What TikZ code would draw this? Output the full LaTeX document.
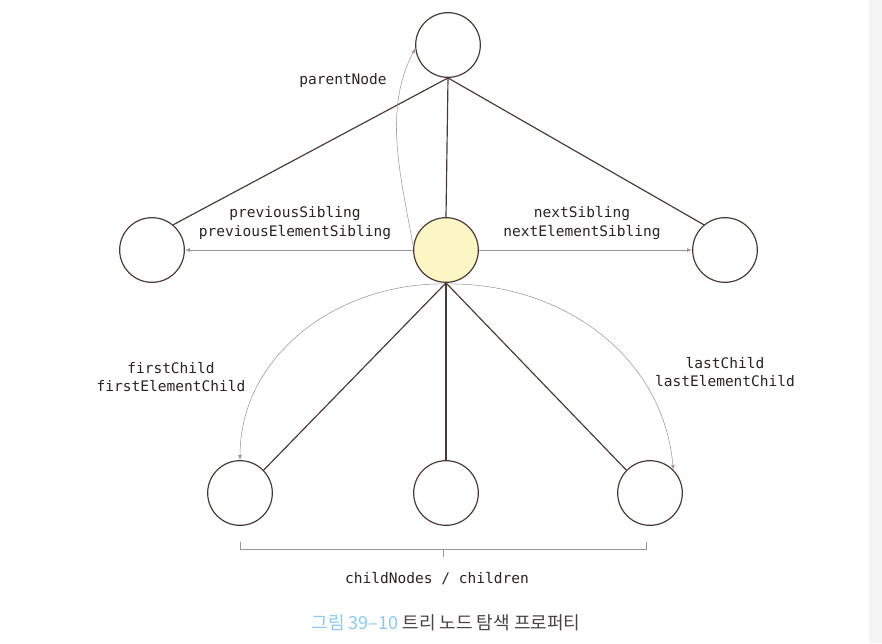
\documentclass[tikz,border=0pt]{standalone}
\usepackage{fontspec}
\setmonofont{DejaVu Sans Mono}
\newfontfamily\kofont{Noto Sans CJK KR}
\usepackage{tikz}
\usetikzlibrary{arrows,arrows.meta,calc,positioning}
\definecolor{bordo}{HTML}{4A3838}
\definecolor{giallino}{HTML}{FCF6C4}
\definecolor{grigiofreccia}{HTML}{9A9494}
\definecolor{testo}{HTML}{2B2222}
\definecolor{azzurro}{HTML}{8CC8EC}

\begin{document}
\begin{tikzpicture}[x=0.3mm, y=-0.3mm, >=latex,
    nodo/.style={circle, draw=bordo, line width=1pt, fill=white, minimum size=19.4mm, inner sep=0pt},
    ramo/.style={bordo, line width=1pt},
    freccia/.style={->, grigiofreccia, line width=0.45pt},
    etichetta/.style={text=testo, align=center, font=\ttfamily\fontsize{12.4}{15.6}\selectfont}]
    \useasboundingbox (0,0) rectangle (882,643);
    \fill[black!4] (869,0) rectangle (882,643);

    % Nodi
    \node[nodo] (parent) at (448,45) {};
    \node[nodo, fill=giallino] (cur) at (446,250) {};
    \node[nodo] (prev) at (152,250) {};
    \node[nodo] (next) at (725,250) {};
    \node[nodo] (first) at (240,493) {};
    \node[nodo] (middle) at (446,493) {};
    \node[nodo] (last) at (650,493) {};

    % Rami dell'albero
    \draw[ramo] (parent.south) -- (prev.50);
    \draw[ramo] (parent.south) -- (next.130);
    \draw[ramo] (parent.south) -- (cur.north);
    \draw[ramo] (cur.south) -- (first.44);
    \draw[ramo] (cur.south) -- (middle.north);
    \draw[ramo] (cur.south) -- (last.136);

    % Proprieta di navigazione
    \draw[freccia] (cur.174) to[out=100, in=-118, looseness=0.9] (parent.186);
    \draw[freccia] (cur.west) -- (prev.east);
    \draw[freccia] (cur.east) -- (next.west);
    \draw[freccia] ($(cur.south)+(-4,1)$) to[out=180, in=90] (first.north);
    \draw[freccia] ($(cur.south)+(4,1)$) to[out=0, in=95] (last.45);

    \node[etichetta] (lblparent) at (343,80) {parentNode};
    \node[etichetta] (lblprev) at (295,223) {previousSibling\\previousElementSibling};
    \node[etichetta] (lblnext) at (582,223) {nextSibling\\nextElementSibling};
    \node[etichetta] (lblfirst) at (171,377) {firstChild\\firstElementChild};
    \node[etichetta] (lbllast) at (725,372) {lastChild\\lastElementChild};

    % Graffa dei figli
    \coordinate (gsx) at (240,542);
    \coordinate (gdx) at (646,542);
    \coordinate (gmid) at (443,549);
    \draw[grigiofreccia, line width=0.5pt] (gsx) -- ++(0,7) -- ($(gdx)+(0,7)$) -- (gdx);
    \draw[grigiofreccia, line width=0.5pt] (gmid) -- ++(0,8);
    \node[etichetta] (lblchildren) at (437,579) {childNodes / children};

    \node[font=\kofont\fontsize{15.4}{18}\selectfont, text=testo!85] (caption) at (446,623)
        {\textcolor{azzurro}{그림 39–10} 트리 노드 탐색 프로퍼티};
\end{tikzpicture}
\end{document}
